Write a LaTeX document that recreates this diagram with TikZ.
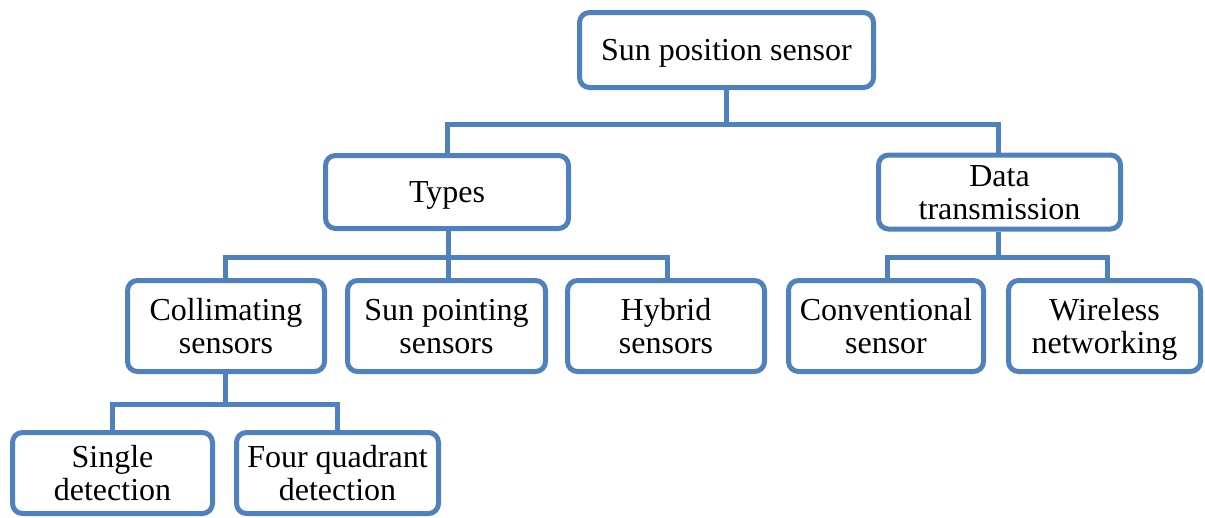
\documentclass[tikz,border=0pt]{standalone}
\usepackage{fontspec}
\setmainfont{Liberation Serif}
\definecolor{boxblue}{HTML}{4F81BD}
\newcommand{\topstr}{\rule{0pt}{31pt}}
\newcommand{\botstr}{\rule[-10pt]{0pt}{10pt}}
\begin{document}
\begin{tikzpicture}[x=1pt,y=-1pt,
  box/.style={draw=boxblue, line width=5pt, rounded corners=10pt, rectangle,
    inner sep=0pt, align=center, font=\fontsize{32}{33}\selectfont, fill=white},
  link/.style={draw=boxblue, line width=5pt}]
\useasboundingbox (0,0) rectangle (1205,517);
\node[box, minimum width=294pt, minimum height=75pt] (sun) at (726.5,50) {\topstr Sun position sensor\botstr};
\node[box, minimum width=243pt, minimum height=73pt] (types) at (447,192) {\topstr Types\botstr};
\node[box, minimum width=242pt, minimum height=73pt] (data) at (999.5,192) {\topstr Data\\transmission\botstr};
\node[box, minimum width=197pt, minimum height=91pt] (coll) at (226,326) {\topstr Collimating\\sensors\botstr};
\node[box, minimum width=198pt, minimum height=91pt] (point) at (446.5,326) {\topstr Sun pointing\\sensors\botstr};
\node[box, minimum width=197pt, minimum height=91pt] (hyb) at (666,326) {\topstr Hybrid\\sensors\botstr};
\node[box, minimum width=195pt, minimum height=91pt] (conv) at (886,326) {\topstr Conventional\\sensor\botstr};
\node[box, minimum width=192pt, minimum height=91pt] (wire) at (1104.5,326) {\topstr Wireless\\networking\botstr};
\node[box, minimum width=200pt, minimum height=81pt] (single) at (112.5,473) {\topstr Single\\detection\botstr};
\node[box, minimum width=202pt, minimum height=81pt] (four) at (337.5,473) {\topstr Four quadrant\\detection\botstr};
\draw[link] (sun.south) -- ++(0,34) -| (types.north);
\draw[link] (sun.south) -- ++(0,34) -| ([xshift=-1.5pt]data.north);
\draw[link] ([xshift=1pt]types.south) -- ++(0,26) -| ([xshift=-1pt]coll.north);
\draw[link] ([xshift=1pt]types.south) -- ++(0,26) -- ([xshift=1.5pt]point.north);
\draw[link] ([xshift=1pt]types.south) -- ++(0,26) -| ([xshift=1pt]hyb.north);
\draw[link] ([xshift=-1.5pt]data.south) -- ++(0,26) -| ([xshift=1pt]conv.north);
\draw[link] ([xshift=-1.5pt]data.south) -- ++(0,26) -| ([xshift=3pt]wire.north);
\draw[link] ([xshift=-1pt]coll.south) -- ++(0,30.5) -| (single.north);
\draw[link] ([xshift=-1pt]coll.south) -- ++(0,30.5) -| (four.north);
\end{tikzpicture}
\end{document}
